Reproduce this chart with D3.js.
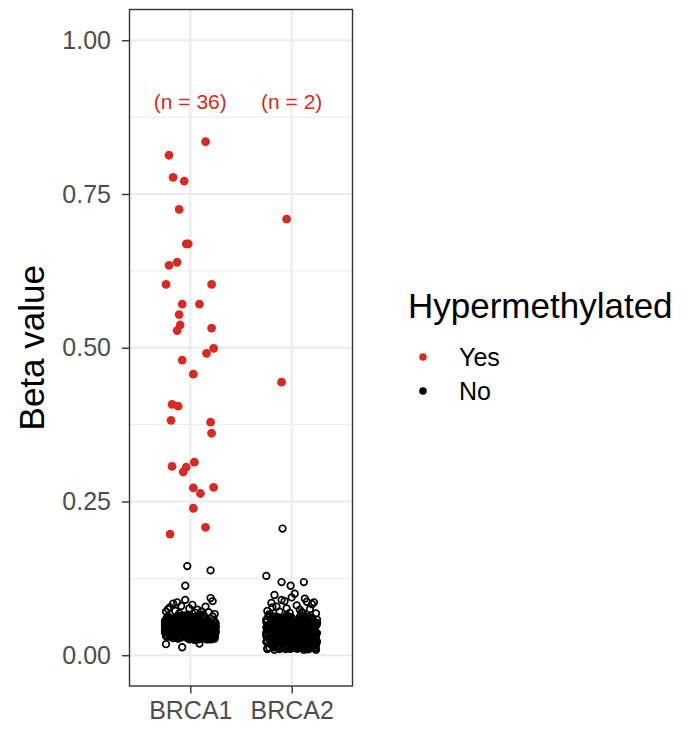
<!DOCTYPE html>
<html>
<head>
<meta charset="utf-8">
<script src="https://cdn.jsdelivr.net/npm/d3@7"></script>
<style>
  html, body { margin: 0; padding: 0; background: #ffffff; }
  svg { display: block; font-family: "Liberation Sans", Arial, Helvetica, sans-serif; }
</style>
</head>
<body>
<svg id="chart"></svg>
<script>
// categories and labels
const categories = ['BRCA1', 'BRCA2'];
const nLabels = ['(n = 36)', '(n = 2)'];
const yTicks = [0, 0.25, 0.5, 0.75, 1];
const yMinorTicks = [0.125, 0.375, 0.625, 0.875];
const legendKeys = ['Yes', 'No'];

// hypermethylated samples (red)
const yesBRCA1Beta = [0.813, 0.835, 0.777, 0.771, 0.725, 0.669, 0.669, 0.634, 0.639, 0.603,
  0.603, 0.571, 0.571, 0.554, 0.537, 0.528, 0.532, 0.499, 0.491, 0.480,
  0.457, 0.408, 0.405, 0.382, 0.379, 0.361, 0.307, 0.314, 0.306, 0.298,
  0.272, 0.263, 0.273, 0.239, 0.208, 0.197];
const yesBRCA1Jitter = [-0.21, 0.15, -0.17, -0.06, -0.11, -0.04, -0.02, -0.21, -0.13, -0.24,
  0.21, -0.08, 0.09, -0.11, -0.10, -0.13, 0.21, 0.23, 0.16, -0.08,
  0.03, -0.18, -0.12, -0.19, 0.20, 0.21, -0.18, 0.04, -0.04, -0.07,
  0.03, 0.10, 0.23, 0.03, 0.15, -0.20];
const yesBRCA2Beta = [0.709, 0.444];
const yesBRCA2Jitter = [-0.05, -0.10];

// not hypermethylated samples (open black)
const noBRCA1Beta = [
  0.041, 0.032, 0.055, 0.047, 0.028, 0.061, 0.037, 0.044, 0.052, 0.035,
  0.049, 0.058, 0.030, 0.043, 0.064, 0.039, 0.026, 0.051, 0.046, 0.033,
  0.036, 0.045, 0.062, 0.029, 0.040, 0.054, 0.048, 0.031, 0.057, 0.042,
  0.053, 0.027, 0.038, 0.059, 0.045, 0.034, 0.050, 0.063, 0.030, 0.047,
  0.044, 0.056, 0.033, 0.040, 0.052, 0.025, 0.043, 0.037, 0.060, 0.049,
  0.031, 0.048, 0.057, 0.035, 0.042, 0.066, 0.029, 0.054, 0.039, 0.046,
  0.060, 0.037, 0.044, 0.051, 0.027, 0.040, 0.058, 0.033, 0.045, 0.053,
  0.038, 0.064, 0.029, 0.046, 0.055, 0.032, 0.041, 0.050, 0.036, 0.062,
  0.047, 0.034, 0.052, 0.039, 0.061, 0.044, 0.030, 0.057, 0.048, 0.026,
  0.055, 0.043, 0.036, 0.065, 0.033, 0.050, 0.045, 0.028, 0.040, 0.058,
  0.035, 0.050, 0.046, 0.031, 0.059, 0.038, 0.053, 0.042, 0.064, 0.029,
  0.043, 0.027, 0.061, 0.048, 0.037, 0.056, 0.032, 0.045, 0.051, 0.039,
  0.050, 0.041, 0.034, 0.057, 0.044, 0.029, 0.062, 0.036, 0.047, 0.054,
  0.030, 0.059, 0.045, 0.038, 0.052, 0.042, 0.035, 0.060, 0.026, 0.049,
  0.057, 0.036, 0.049, 0.063, 0.031, 0.046, 0.054, 0.040, 0.058, 0.034,
  0.044, 0.053, 0.028, 0.041, 0.066, 0.035, 0.047, 0.052, 0.037, 0.060,
  0.033, 0.046, 0.058, 0.030, 0.039, 0.061, 0.043, 0.027, 0.055, 0.048,
  0.062, 0.040, 0.035, 0.051, 0.045, 0.032, 0.056, 0.044, 0.038, 0.029,
  0.039, 0.055, 0.047, 0.036, 0.027, 0.053, 0.031, 0.063, 0.042, 0.050,
  0.048, 0.030, 0.060, 0.044, 0.057, 0.038, 0.052, 0.034, 0.046, 0.065,
  0.026, 0.051, 0.037, 0.059, 0.042, 0.047, 0.036, 0.055, 0.031, 0.043,
  0.054, 0.038, 0.045, 0.028, 0.050, 0.062, 0.040, 0.033, 0.057, 0.036,
  0.035, 0.061, 0.031, 0.049, 0.039, 0.044, 0.058, 0.046, 0.029, 0.052,
  0.059, 0.043, 0.053, 0.034, 0.064, 0.030, 0.048, 0.041, 0.055, 0.037,
  0.040, 0.028, 0.056, 0.045, 0.033, 0.051, 0.039, 0.061, 0.047, 0.032,
  0.052, 0.047, 0.042, 0.063, 0.036, 0.058, 0.026, 0.049, 0.035, 0.044,
  0.046, 0.039, 0.057, 0.031, 0.050, 0.043, 0.061, 0.035, 0.048, 0.054,
  0.037, 0.052, 0.028, 0.045, 0.059, 0.041, 0.033, 0.056, 0.047, 0.039,
  0.060, 0.034, 0.049, 0.042, 0.027, 0.055, 0.038, 0.064, 0.044, 0.030,
  0.043, 0.058, 0.036, 0.051, 0.040, 0.032, 0.047, 0.029, 0.062, 0.053,
  0.030, 0.045, 0.063, 0.038, 0.054, 0.048, 0.035, 0.042, 0.026, 0.057,
  0.051, 0.027, 0.041, 0.060, 0.036, 0.044, 0.052, 0.031, 0.049, 0.040,
  0.038, 0.056, 0.033, 0.046, 0.029, 0.062, 0.043, 0.050, 0.037, 0.034,
  0.055, 0.041, 0.059, 0.032, 0.047, 0.036, 0.028, 0.053, 0.044, 0.061,
  0.029, 0.050, 0.038, 0.055, 0.042, 0.033, 0.057, 0.046, 0.040, 0.048,
  0.047, 0.035, 0.054, 0.026, 0.060, 0.049, 0.040, 0.037, 0.052, 0.031,
  0.036, 0.063, 0.044, 0.050, 0.033, 0.058, 0.027, 0.045, 0.039, 0.056,
  0.053, 0.031, 0.048, 0.042, 0.037, 0.026, 0.055, 0.034, 0.061, 0.045,
  0.041, 0.057, 0.030, 0.064, 0.046, 0.039, 0.051, 0.043, 0.028, 0.036,
  0.058, 0.044, 0.052, 0.035, 0.040, 0.054, 0.032, 0.060, 0.047, 0.038,
  0.034, 0.049, 0.027, 0.056, 0.062, 0.042, 0.045, 0.030, 0.053, 0.050,
  0.078, 0.084, 0.086, 0.080, 0.072, 0.075, 0.090, 0.082, 0.074, 0.079,
  0.093, 0.088, 0.070, 0.071, 0.076, 0.068, 0.069, 0.071, 0.067, 0.018,
  0.013, 0.019, 0.145, 0.138, 0.113];
const noBRCA1Jitter = [
  -0.21, 0.13, -0.04, 0.22, -0.17, 0.06, -0.09, 0.19, -0.24, 0.01,
  0.11, -0.13, 0.24, -0.02, 0.08, -0.20, 0.16, -0.07, 0.03, -0.15,
  0.20, -0.23, 0.05, -0.11, 0.14, -0.01, 0.23, -0.18, 0.09, -0.06,
  -0.12, 0.17, -0.19, 0.02, 0.25, -0.08, 0.12, -0.22, 0.07, -0.03,
  0.15, -0.16, 0.00, 0.21, -0.10, 0.04, -0.25, 0.18, -0.05, 0.10,
  -0.14, 0.23, -0.20, 0.08, -0.01, 0.13, -0.09, 0.24, -0.17, 0.03,
  0.06, -0.22, 0.19, -0.12, 0.01, -0.06, 0.16, -0.24, 0.11, -0.03,
  0.22, -0.08, 0.14, -0.18, 0.04, 0.20, -0.13, 0.09, -0.21, 0.00,
  -0.02, 0.12, -0.15, 0.25, -0.07, 0.17, -0.23, 0.05, -0.11, 0.21,
  0.08, -0.19, 0.02, -0.05, 0.23, -0.14, 0.10, -0.01, 0.18, -0.24,
  -0.10, 0.15, -0.21, 0.07, -0.16, 0.24, -0.04, 0.13, -0.08, 0.00,
  0.19, -0.12, 0.04, -0.22, 0.11, -0.02, 0.21, -0.17, 0.06, -0.09,
  -0.25, 0.09, -0.06, 0.16, -0.13, 0.22, 0.01, -0.19, 0.14, -0.03,
  0.12, -0.07, 0.24, -0.15, 0.03, -0.23, 0.18, -0.10, 0.07, 0.20,
  -0.18, 0.05, -0.11, 0.13, -0.24, 0.10, -0.02, 0.22, -0.14, 0.16,
  0.02, -0.20, 0.17, -0.04, 0.09, -0.12, 0.25, -0.07, 0.11, -0.16,
  0.23, -0.09, 0.06, -0.19, 0.14, -0.01, -0.22, 0.19, -0.05, 0.08,
  -0.13, 0.21, -0.17, 0.03, -0.08, 0.15, -0.25, 0.12, 0.00, -0.11,
  0.17, -0.03, 0.10, -0.21, 0.24, -0.14, 0.05, -0.06, 0.20, -0.18,
  -0.07, 0.14, -0.23, 0.08, -0.12, 0.01, 0.18, -0.16, 0.22, -0.02,
  0.04, -0.15, 0.21, -0.09, 0.13, -0.24, 0.07, -0.04, 0.16, -0.20,
  -0.01, 0.24, -0.12, 0.11, -0.18, 0.06, -0.07, 0.20, -0.22, 0.15,
  0.09, -0.05, 0.18, -0.14, 0.02, -0.19, 0.23, -0.10, 0.12, -0.25,
  -0.16, 0.07, -0.02, 0.19, -0.08, 0.10, -0.21, 0.04, -0.13, 0.25,
  0.21, -0.11, 0.15, -0.06, 0.05, -0.17, 0.13, -0.23, 0.02, -0.04,
  -0.20, 0.16, -0.09, 0.22, -0.15, 0.03, -0.01, 0.14, -0.18, 0.08,
  0.18, -0.06, 0.09, -0.20, 0.02, 0.14, -0.12, 0.23, -0.17, 0.05,
  -0.09, 0.20, -0.03, 0.11, -0.22, 0.07, 0.16, -0.14, 0.01, -0.25,
  0.13, -0.18, 0.22, -0.07, 0.04, -0.11, 0.19, -0.02, -0.16, 0.10,
  -0.23, 0.06, -0.14, 0.17, -0.05, 0.24, -0.19, 0.12, 0.03, -0.08,
  0.21, -0.01, 0.08, -0.24, 0.15, -0.10, 0.00, -0.15, 0.18, 0.11,
  -0.04, 0.16, -0.21, 0.02, -0.13, 0.09, 0.25, -0.06, 0.14, -0.18,
  0.07, -0.12, 0.20, -0.17, 0.11, -0.03, -0.23, 0.15, -0.09, 0.22,
  -0.15, 0.03, -0.08, 0.24, -0.19, 0.13, 0.05, -0.01, 0.10, -0.21,
  0.16, -0.24, 0.12, -0.10, 0.06, 0.19, -0.06, -0.14, 0.23, 0.00,
  -0.11, 0.09, -0.16, 0.04, -0.02, 0.21, -0.20, 0.17, -0.07, 0.13,
  0.24, -0.13, 0.01, -0.19, 0.18, -0.08, 0.10, -0.22, 0.06, -0.04,
  -0.18, 0.12, -0.05, 0.15, -0.25, 0.08, -0.12, 0.20, -0.01, 0.14,
  0.03, -0.21, 0.17, -0.09, 0.22, -0.16, 0.07, -0.03, -0.13, 0.19,
  -0.06, 0.23, -0.14, 0.10, -0.20, 0.01, 0.16, -0.11, 0.04, -0.23,
  0.11, -0.02, 0.20, -0.17, 0.08, -0.07, -0.18, 0.13, -0.10, 0.02,
  -0.20, -0.17, -0.13, -0.09, -0.15, -0.22, -0.05, 0.02, 0.07, 0.15,
  0.20, 0.22, 0.18, 0.11, -0.01, -0.11, 0.05, -0.24, 0.24, -0.24,
  -0.08, 0.09, -0.03, 0.20, -0.05];
const noBRCA2Beta = [
  0.024, 0.041, 0.013, 0.035, 0.052, 0.019, 0.030, 0.047, 0.010, 0.038,
  0.056, 0.027, 0.044, 0.016, 0.033, 0.061, 0.021, 0.039, 0.049, 0.012,
  0.031, 0.050, 0.022, 0.043, 0.009, 0.036, 0.058, 0.026, 0.045, 0.017,
  0.040, 0.014, 0.054, 0.029, 0.046, 0.023, 0.034, 0.063, 0.018, 0.051,
  0.020, 0.037, 0.028, 0.059, 0.015, 0.042, 0.011, 0.032, 0.048, 0.025,
  0.045, 0.018, 0.060, 0.034, 0.026, 0.053, 0.039, 0.013, 0.030, 0.057,
  0.016, 0.048, 0.035, 0.021, 0.055, 0.010, 0.044, 0.027, 0.062, 0.037,
  0.033, 0.058, 0.019, 0.042, 0.030, 0.047, 0.014, 0.052, 0.023, 0.040,
  0.050, 0.025, 0.064, 0.012, 0.038, 0.020, 0.056, 0.035, 0.017, 0.046,
  0.028, 0.043, 0.015, 0.054, 0.022, 0.060, 0.031, 0.009, 0.041, 0.034,
  0.059, 0.019, 0.036, 0.027, 0.049, 0.013, 0.044, 0.024, 0.053, 0.011,
  0.037, 0.052, 0.024, 0.062, 0.016, 0.039, 0.028, 0.057, 0.032, 0.045,
  0.014, 0.034, 0.047, 0.020, 0.043, 0.055, 0.010, 0.038, 0.026, 0.051,
  0.046, 0.011, 0.031, 0.050, 0.025, 0.018, 0.061, 0.042, 0.015, 0.029,
  0.022, 0.057, 0.040, 0.013, 0.036, 0.048, 0.027, 0.065, 0.044, 0.019,
  0.053, 0.030, 0.017, 0.045, 0.058, 0.023, 0.035, 0.012, 0.049, 0.039,
  0.010, 0.044, 0.062, 0.032, 0.020, 0.051, 0.016, 0.041, 0.029, 0.055,
  0.038, 0.021, 0.049, 0.015, 0.042, 0.033, 0.059, 0.024, 0.011, 0.046,
  0.026, 0.054, 0.012, 0.040, 0.063, 0.029, 0.047, 0.018, 0.036, 0.014,
  0.043, 0.016, 0.033, 0.056, 0.011, 0.045, 0.022, 0.050, 0.060, 0.028,
  0.018, 0.039, 0.053, 0.024, 0.047, 0.036, 0.013, 0.058, 0.031, 0.042,
  0.055, 0.028, 0.020, 0.064, 0.034, 0.015, 0.051, 0.037, 0.023, 0.048,
  0.012, 0.046, 0.038, 0.017, 0.057, 0.025, 0.042, 0.010, 0.052, 0.031,
  0.035, 0.060, 0.026, 0.044, 0.014, 0.050, 0.030, 0.055, 0.019, 0.041,
  0.049, 0.022, 0.058, 0.031, 0.040, 0.011, 0.063, 0.027, 0.045, 0.016,
  0.029, 0.051, 0.015, 0.037, 0.024, 0.056, 0.018, 0.043, 0.034, 0.061,
  0.041, 0.013, 0.045, 0.026, 0.060, 0.033, 0.048, 0.021, 0.054, 0.009,
  0.017, 0.036, 0.030, 0.052, 0.012, 0.044, 0.025, 0.039, 0.057, 0.023,
  0.032, 0.019, 0.047, 0.025, 0.055, 0.012, 0.040, 0.028, 0.051, 0.036,
  0.015, 0.043, 0.030, 0.058, 0.021, 0.037, 0.010, 0.049, 0.026, 0.062,
  0.044, 0.027, 0.053, 0.016, 0.039, 0.031, 0.057, 0.022, 0.013, 0.048,
  0.020, 0.052, 0.035, 0.042, 0.011, 0.029, 0.046, 0.060, 0.033, 0.018,
  0.050, 0.014, 0.041, 0.024, 0.036, 0.056, 0.019, 0.045, 0.030, 0.054,
  0.027, 0.063, 0.017, 0.048, 0.034, 0.022, 0.052, 0.012, 0.040, 0.031,
  0.058, 0.035, 0.045, 0.013, 0.053, 0.028, 0.038, 0.023, 0.047, 0.016,
  0.034, 0.046, 0.026, 0.055, 0.018, 0.041, 0.014, 0.059, 0.037, 0.024,
  0.011, 0.039, 0.056, 0.029, 0.049, 0.020, 0.043, 0.032, 0.015, 0.052,
  0.047, 0.022, 0.038, 0.061, 0.025, 0.054, 0.010, 0.036, 0.044, 0.028,
  0.023, 0.051, 0.014, 0.033, 0.042, 0.017, 0.059, 0.026, 0.049, 0.037,
  0.040, 0.012, 0.057, 0.030, 0.021, 0.046, 0.035, 0.050, 0.019, 0.062,
  0.053, 0.029, 0.042, 0.017, 0.060, 0.033, 0.024, 0.011, 0.045, 0.038,
  0.016, 0.048, 0.031, 0.051, 0.027, 0.055, 0.013, 0.041, 0.022, 0.035,
  0.045, 0.020, 0.039, 0.012, 0.050, 0.026, 0.058, 0.034, 0.016, 0.043,
  0.072, 0.085, 0.079, 0.090, 0.076, 0.094, 0.081, 0.070, 0.087, 0.083,
  0.068, 0.067, 0.071, 0.069, 0.074, 0.075, 0.098, 0.088, 0.100, 0.092,
  0.086, 0.078, 0.069, 0.129, 0.119, 0.113, 0.119, 0.206];
const noBRCA2Jitter = [
  0.14, -0.22, 0.03, -0.09, 0.20, -0.16, 0.08, -0.01, 0.24, -0.13,
  -0.05, 0.18, -0.24, 0.11, -0.19, 0.00, 0.22, -0.07, 0.15, -0.11,
  0.06, -0.14, 0.25, -0.03, 0.12, -0.21, 0.17, -0.10, 0.02, -0.18,
  -0.23, 0.09, -0.06, 0.19, -0.15, 0.04, -0.25, 0.13, -0.02, 0.21,
  0.10, -0.20, 0.16, -0.12, 0.01, -0.08, 0.23, -0.17, 0.07, -0.04,
  -0.16, 0.24, -0.11, 0.05, -0.22, 0.14, -0.01, 0.19, -0.13, 0.09,
  0.03, -0.07, 0.21, -0.18, 0.12, -0.24, 0.06, -0.10, 0.17, -0.03,
  0.22, -0.12, 0.00, 0.15, -0.20, 0.08, -0.05, 0.25, -0.15, 0.11,
  -0.09, 0.17, -0.23, 0.02, -0.14, 0.20, -0.02, 0.13, -0.19, 0.06,
  0.18, -0.04, 0.10, -0.25, 0.23, -0.11, 0.04, -0.17, 0.14, -0.08,
  -0.13, 0.07, -0.19, 0.22, -0.06, 0.11, -0.21, 0.16, 0.01, -0.24,
  0.05, -0.16, 0.13, -0.01, 0.19, -0.09, 0.24, -0.14, 0.09, -0.20,
  -0.18, 0.21, -0.08, 0.12, -0.23, 0.03, -0.12, 0.17, -0.04, 0.25,
  0.12, -0.02, 0.16, -0.21, 0.07, -0.15, 0.20, -0.06, 0.10, -0.17,
  -0.25, 0.15, -0.10, 0.04, -0.14, 0.23, -0.07, 0.09, -0.20, 0.02,
  0.20, -0.09, 0.06, -0.17, 0.25, -0.03, 0.14, -0.22, 0.01, -0.12,
  -0.06, 0.11, -0.22, 0.18, -0.11, 0.07, -0.16, 0.22, -0.01, 0.16,
  0.09, -0.19, 0.02, -0.07, 0.13, -0.24, 0.19, -0.13, 0.05, -0.02,
  -0.14, 0.23, -0.04, 0.10, -0.18, 0.16, -0.09, 0.04, -0.21, 0.12,
  0.16, -0.01, 0.21, -0.15, 0.06, -0.10, 0.24, -0.19, 0.13, -0.06,
  -0.21, 0.04, -0.13, 0.17, -0.03, 0.22, -0.17, 0.08, -0.08, 0.19,
  0.01, -0.23, 0.14, -0.05, 0.20, -0.12, 0.10, -0.25, 0.18, -0.15,
  -0.10, 0.13, -0.18, 0.24, -0.07, 0.05, -0.20, 0.15, -0.03, 0.08,
  0.23, -0.06, 0.08, -0.16, 0.11, -0.22, 0.02, -0.11, 0.21, -0.14,
  -0.03, 0.19, -0.25, 0.06, -0.12, 0.15, -0.05, 0.12, -0.18, 0.03,
  0.15, -0.17, 0.04, -0.09, 0.22, -0.02, 0.18, -0.21, 0.07, -0.13,
  -0.19, 0.10, -0.14, 0.20, -0.04, 0.12, -0.23, 0.01, -0.08, 0.24,
  0.07, -0.11, 0.19, -0.20, 0.16, -0.06, 0.03, -0.16, 0.11, -0.01,
  -0.07, 0.21, -0.15, 0.04, -0.24, 0.13, 0.00, -0.11, 0.18, -0.02,
  0.10, -0.19, 0.06, -0.08, 0.23, -0.13, 0.16, -0.04, -0.21, 0.08,
  -0.17, 0.02, 0.19, -0.12, 0.07, -0.25, 0.11, -0.06, 0.14, 0.24,
  0.05, -0.09, -0.20, 0.15, -0.01, 0.21, -0.16, 0.09, -0.13, 0.01,
  -0.22, 0.17, -0.05, 0.12, 0.25, -0.18, 0.03, -0.10, 0.20, -0.07,
  0.13, -0.03, 0.08, -0.23, 0.18, -0.14, -0.08, 0.22, 0.00, -0.16,
  -0.12, 0.24, -0.19, 0.06, -0.05, 0.10, 0.16, -0.21, 0.11, 0.04,
  0.19, -0.15, 0.01, -0.02, 0.14, -0.24, 0.07, -0.12, 0.22, -0.09,
  -0.01, 0.12, -0.18, 0.20, -0.10, 0.03, -0.22, 0.15, -0.06, 0.25,
  0.08, -0.20, 0.23, -0.14, 0.05, -0.04, 0.17, -0.17, 0.10, -0.11,
  -0.24, 0.14, -0.07, 0.02, -0.16, 0.21, -0.01, 0.09, -0.19, 0.18,
  0.16, -0.08, 0.11, -0.22, 0.24, -0.11, 0.06, -0.03, 0.13, -0.15,
  -0.04, 0.19, -0.13, 0.07, -0.20, 0.15, -0.09, 0.23, -0.25, 0.03,
  0.21, -0.05, 0.04, -0.17, 0.09, -0.12, 0.20, -0.23, 0.12, -0.02,
  -0.14, 0.06, -0.21, 0.17, -0.06, 0.01, -0.10, 0.14, -0.18, 0.22,
  -0.24, -0.20, -0.15, -0.10, -0.05, 0.00, 0.05, 0.10, 0.15, 0.20,
  0.24, -0.22, -0.12, -0.02, 0.08, 0.18, -0.17, -0.07, 0.03, 0.13,
  0.22, -0.19, 0.11, -0.25, -0.10, -0.01, 0.12, -0.09];

const red = '#D52B24';
const width = 694;
const height = 730;

const svg = d3.select('#chart')
  .attr('width', width)
  .attr('height', height);

// panel box
const panel = { left: 129.5, right: 352.5, top: 9.5, bottom: 686 };

const x = d3.scaleLinear()
  .domain([0.4, categories.length + 0.6])
  .range([panel.left, panel.right]);
const y = d3.scaleLinear()
  .domain([-0.05, 1.05])
  .range([panel.bottom, panel.top]);

// build point rows
function rows(betas, jitters, catIndex, group) {
  return betas.map((b, i) => ({ beta: b, pos: catIndex + 1 + (jitters[i] || 0), group: group }));
}
const noPoints = rows(noBRCA1Beta, noBRCA1Jitter, 0, 'No')
  .concat(rows(noBRCA2Beta, noBRCA2Jitter, 1, 'No'));
const yesPoints = rows(yesBRCA1Beta, yesBRCA1Jitter, 0, 'Yes')
  .concat(rows(yesBRCA2Beta, yesBRCA2Jitter, 1, 'Yes'));

/* Grid */
const grid = svg.append('g').attr('class', 'grid');
grid.selectAll('.minor')
  .data(yMinorTicks)
  .enter()
  .append('line')
  .attr('x1', panel.left).attr('x2', panel.right)
  .attr('y1', d => y(d)).attr('y2', d => y(d))
  .attr('stroke', '#EBEBEB')
  .attr('stroke-width', 1);
grid.selectAll('.major-y')
  .data(yTicks)
  .enter()
  .append('line')
  .attr('x1', panel.left).attr('x2', panel.right)
  .attr('y1', d => y(d)).attr('y2', d => y(d))
  .attr('stroke', '#EBEBEB')
  .attr('stroke-width', 2);
grid.selectAll('.major-x')
  .data(categories)
  .enter()
  .append('line')
  .attr('x1', (d, i) => x(i + 1)).attr('x2', (d, i) => x(i + 1))
  .attr('y1', panel.top).attr('y2', panel.bottom)
  .attr('stroke', '#EBEBEB')
  .attr('stroke-width', 2);

/* Points */
svg.append('g')
  .selectAll('circle')
  .data(noPoints)
  .enter()
  .append('circle')
  .attr('cx', d => x(d.pos))
  .attr('cy', d => y(d.beta))
  .attr('r', 3.3)
  .attr('fill', 'none')
  .attr('stroke', '#000000')
  .attr('stroke-width', 1.7);

svg.append('g')
  .selectAll('circle')
  .data(yesPoints)
  .enter()
  .append('circle')
  .attr('cx', d => x(d.pos))
  .attr('cy', d => y(d.beta))
  .attr('r', 4.4)
  .attr('fill', red);

/* n labels */
svg.append('g')
  .selectAll('text')
  .data(nLabels)
  .enter()
  .append('text')
  .attr('x', (d, i) => x(i + 1))
  .attr('y', y(0.9))
  .attr('dy', '0.36em')
  .attr('text-anchor', 'middle')
  .attr('font-size', 21)
  .attr('fill', red)
  .text(d => d);

/* Panel border */
svg.append('rect')
  .attr('x', panel.left)
  .attr('y', panel.top)
  .attr('width', panel.right - panel.left)
  .attr('height', panel.bottom - panel.top)
  .attr('fill', 'none')
  .attr('stroke', '#333333')
  .attr('stroke-width', 1.4);

/* Axes */
const yAxis = svg.append('g')
  .attr('transform', `translate(${panel.left},0)`)
  .call(d3.axisLeft(y).tickValues(yTicks).tickFormat(d3.format('.2f')).tickSizeInner(7.5).tickSizeOuter(0).tickPadding(11));
yAxis.select('.domain').remove();
yAxis.selectAll('line').attr('stroke', '#333333').attr('stroke-width', 1.4);
yAxis.selectAll('text')
  .attr('font-size', 25)
  .attr('font-family', '"Liberation Sans", Arial, sans-serif')
  .attr('fill', '#4D4D4D');

const xAxis = svg.append('g')
  .attr('transform', `translate(0,${panel.bottom})`)
  .call(d3.axisBottom(x).tickValues(categories.map((c, i) => i + 1)).tickFormat(d => categories[d - 1]).tickSizeInner(7.5).tickSizeOuter(0).tickPadding(8));
xAxis.select('.domain').remove();
xAxis.selectAll('line').attr('stroke', '#333333').attr('stroke-width', 1.4);
xAxis.selectAll('text')
  .attr('font-size', 25)
  .attr('font-family', '"Liberation Sans", Arial, sans-serif')
  .attr('fill', '#4D4D4D');

// y title
svg.append('text')
  .attr('transform', `translate(44,${(panel.top + panel.bottom) / 2}) rotate(-90)`)
  .attr('text-anchor', 'middle')
  .attr('font-size', 35)
  .attr('fill', '#000000')
  .text('Beta value');

/* Legend */
const legend = svg.append('g').attr('transform', 'translate(408,0)');
legend.append('text')
  .attr('x', 0)
  .attr('y', 318)
  .attr('font-size', 35)
  .attr('fill', '#000000')
  .text('Hypermethylated');
const keys = legend.selectAll('.key')
  .data(legendKeys)
  .enter()
  .append('g')
  .attr('transform', (d, i) => `translate(0,${357 + i * 34})`);
keys.append('circle')
  .attr('cx', 15)
  .attr('cy', 0)
  .attr('r', 3.8)
  .attr('fill', d => d === 'Yes' ? red : '#000000');
keys.append('text')
  .attr('x', 51)
  .attr('y', 0)
  .attr('dy', '0.36em')
  .attr('font-size', 25)
  .attr('fill', '#000000')
  .text(d => d);
</script>
</body>
</html>
